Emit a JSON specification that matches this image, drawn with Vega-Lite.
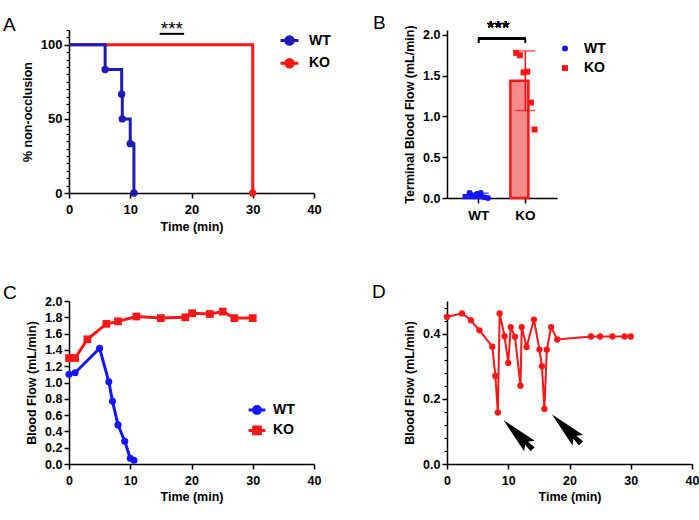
{
  "$schema": "https://vega.github.io/schema/vega-lite/v6.json",
  "background": "white",
  "padding": {"left": 3, "top": 14, "right": 5, "bottom": 5},
  "autosize": {"type": "pad"},
  "bounds": "flush",
  "columns": 2,
  "spacing": {"row": 103, "column": 133},
  "resolve": {"scale": {"color": "independent", "x": "independent", "y": "independent", "xOffset": "independent"}, "legend": {"color": "independent"}},
  "config": {
    "font": "Liberation Sans",
    "view": {"stroke": null},
    "axis": {"grid": false, "domainColor": "#000", "domainWidth": 1.5, "tickColor": "#000", "tickWidth": 1.5, "tickSize": 5, "labelFont": "Liberation Sans", "labelFontWeight": "bold", "labelFontSize": 12.5, "labelColor": "#000", "labelPadding": 2, "labelFlush": false, "labelOverlap": false, "titleFont": "Liberation Sans", "titleFontWeight": "bold", "titleFontSize": 12.5, "titleColor": "#000"},
    "axisX": {"labelPadding": 5, "titlePadding": 4},
    "axisY": {"titlePadding": 6},
    "legend": {"labelFont": "Liberation Sans", "labelFontWeight": "bold", "labelFontSize": 14, "labelColor": "#000", "orient": "none", "padding": 0, "offset": 0},
    "title": {"font": "Liberation Sans", "fontSize": 19, "fontWeight": "normal", "color": "#000", "anchor": "start", "frame": "group", "baseline": "alphabetic"}
  },
  "concat": [
    {
      "width": 245, "height": 163,
      "title": {"text": "A", "dx": -66, "offset": 2, "dy": 17},
      "resolve": {"axis": {"y": "independent"}},
      "layer": [
        {
          "data": {"values": [
            {"group": "KO", "time": 0, "pct": 100},
            {"group": "KO", "time": 30, "pct": 0},
            {"group": "WT", "time": 0, "pct": 100},
            {"group": "WT", "time": 5.9, "pct": 83.3},
            {"group": "WT", "time": 8.6, "pct": 66.7},
            {"group": "WT", "time": 8.7, "pct": 50},
            {"group": "WT", "time": 10.0, "pct": 33.3},
            {"group": "WT", "time": 10.6, "pct": 0}
          ]},
          "mark": {"type": "line", "interpolate": "step-after", "strokeWidth": 3},
          "encoding": {
            "x": {"field": "time", "type": "quantitative", "scale": {"domain": [0, 40], "nice": false}, "axis": {"values": [0, 10, 20, 30, 40], "title": "Time (min)", "labelFontSize": 13}},
            "y": {"field": "pct", "type": "quantitative", "scale": {"domain": [0, 110], "nice": false}, "axis": {"values": [0, 50, 100], "title": "% non-occlusion", "orient": "left", "labelFontSize": 13}},
            "color": {"field": "group", "type": "nominal", "scale": {"domain": ["WT", "KO"], "range": ["#1c1cb4", "#f91616"]},
              "legend": {"title": null, "legendX": 210, "legendY": 0, "symbolSize": 324, "labelOffset": 9, "rowPadding": 1.8,
                "encode": {"symbols": {"update": {
                  "shape": {"value": "M-1,0H1M0.42,0A0.42,0.42 0 1,1 -0.42,0A0.42,0.42 0 1,1 0.42,0Z"},
                  "fill": {"signal": "datum.value === 'WT' ? '#1c1cb4' : '#f91616'"},
                  "stroke": {"signal": "datum.value === 'WT' ? '#1c1cb4' : '#f91616'"},
                  "strokeWidth": {"value": 3}, "opacity": {"value": 1}}}}}}
          }
        },
        {
          "data": {"values": [
            {"group": "WT", "time": 5.9, "pct": 83.3},
            {"group": "WT", "time": 8.6, "pct": 66.7},
            {"group": "WT", "time": 8.7, "pct": 50},
            {"group": "WT", "time": 10.0, "pct": 33.3},
            {"group": "WT", "time": 10.6, "pct": 0},
            {"group": "KO", "time": 30, "pct": 0}
          ]},
          "mark": {"type": "point", "filled": true, "opacity": 1, "size": 55},
          "encoding": {
            "x": {"field": "time", "type": "quantitative"},
            "y": {"field": "pct", "type": "quantitative", "axis": null},
            "color": {"field": "group", "type": "nominal"}
          }
        },
        {
          "data": {"values": [{"time": 0, "pct": 0}]},
          "mark": {"type": "point", "opacity": 0},
          "encoding": {
            "x": {"field": "time", "type": "quantitative"},
            "y": {"field": "pct", "type": "quantitative", "axis": {"orient": "left", "values": [5, 10, 15, 20, 25, 30, 35, 40, 45, 55, 60, 65, 70, 75, 80, 85, 90, 95, 105, 110], "labels": false, "domain": false, "title": null, "tickSize": 3, "tickWidth": 1.2}}
          }
        },
        {
          "data": {"values": [{"time": 14.8, "time_end": 18.8, "pct": 107.4}]},
          "mark": {"type": "rule", "color": "#000", "strokeWidth": 2},
          "encoding": {
            "x": {"field": "time", "type": "quantitative"},
            "x2": {"field": "time_end"},
            "y": {"field": "pct", "type": "quantitative", "axis": null}
          }
        },
        {
          "data": {"values": [{"time": 16.8, "pct": 106.5, "label": "***"}]},
          "mark": {"type": "text", "fontSize": 19, "baseline": "alphabetic", "color": "#000"},
          "encoding": {
            "x": {"field": "time", "type": "quantitative"},
            "y": {"field": "pct", "type": "quantitative", "axis": null},
            "text": {"field": "label"}
          }
        }
      ]
    },
    {
      "width": 110, "height": 168,
      "title": {"text": "B", "dx": -74, "offset": 2, "dy": 16},
      "data": {"values": [
        {"group": "WT", "rep": 1, "flow": 0.06},
        {"group": "WT", "rep": 2, "flow": 0.02},
        {"group": "WT", "rep": 3, "flow": 0.05},
        {"group": "WT", "rep": 4, "flow": 0.06},
        {"group": "WT", "rep": 5, "flow": 0.01},
        {"group": "WT", "rep": 6, "flow": 0.0},
        {"group": "KO", "rep": 1, "flow": 1.78},
        {"group": "KO", "rep": 2, "flow": 1.75},
        {"group": "KO", "rep": 3, "flow": 1.54},
        {"group": "KO", "rep": 4, "flow": 1.55},
        {"group": "KO", "rep": 5, "flow": 1.17},
        {"group": "KO", "rep": 6, "flow": 0.84}
      ]},
      "layer": [
        {
          "mark": {"type": "bar", "strokeWidth": 2.5},
          "encoding": {
            "x": {"field": "group", "type": "nominal", "scale": {"domain": ["WT", "KO"], "paddingInner": 0.36, "paddingOuter": 0.36}, "axis": {"title": null, "labelAngle": 0, "labelFontSize": 13.5}},
            "y": {"aggregate": "mean", "field": "flow", "type": "quantitative", "scale": {"domain": [0, 2.06], "nice": false}, "axis": {"values": [0, 0.5, 1, 1.5, 2], "format": ".1f", "title": "Terminal Blood Flow (mL/min)"}},
            "fill": {"field": "group", "type": "nominal", "scale": {"domain": ["WT", "KO"], "range": ["#8f8fff", "#f48a8a"]}, "legend": null},
            "stroke": {"field": "group", "type": "nominal", "scale": {"domain": ["WT", "KO"], "range": ["#1414ff", "#f91616"]}, "legend": null}
          }
        },
        {
          "mark": {"type": "errorbar", "extent": "stdev", "ticks": {"size": 20}, "thickness": 1.5},
          "encoding": {
            "x": {"field": "group", "type": "nominal"},
            "y": {"field": "flow", "type": "quantitative", "title": "Terminal Blood Flow (mL/min)"},
            "color": {"field": "group", "type": "nominal", "scale": {"domain": ["WT", "KO"], "range": ["#1414ff", "#f91616"]},
              "legend": {"title": null, "legendX": 111, "legendY": 11.5, "symbolSize": 36, "labelOffset": 12, "rowPadding": 5.6,
                "encode": {"symbols": {"update": {
                  "shape": {"signal": "datum.value === 'WT' ? 'circle' : 'square'"},
                  "fill": {"signal": "datum.value === 'WT' ? '#1414ff' : '#f91616'"},
                  "stroke": {"value": "transparent"}, "strokeWidth": {"value": 0}, "opacity": {"value": 1}}}}}}
          }
        },
        {
          "transform": [{"filter": "datum.group === 'WT'"}],
          "mark": {"type": "point", "shape": "circle", "filled": true, "opacity": 1, "size": 36},
          "encoding": {
            "x": {"field": "group", "type": "nominal"},
            "xOffset": {"field": "rep", "type": "ordinal", "scale": {"type": "point", "range": [4, 26]}},
            "y": {"field": "flow", "type": "quantitative", "title": "Terminal Blood Flow (mL/min)"},
            "color": {"field": "group", "type": "nominal"}
          }
        },
        {
          "transform": [{"filter": "datum.group === 'KO'"}],
          "mark": {"type": "point", "shape": "square", "filled": true, "opacity": 1, "size": 36},
          "encoding": {
            "x": {"field": "group", "type": "nominal"},
            "xOffset": {"field": "rep", "type": "ordinal", "scale": {"type": "point", "range": [4, 26]}},
            "y": {"field": "flow", "type": "quantitative", "title": "Terminal Blood Flow (mL/min)"},
            "color": {"field": "group", "type": "nominal"}
          }
        },
        {
          "mark": {"type": "rule", "color": "#000", "strokeWidth": 2},
          "encoding": {"x": {"datum": "WT"}, "x2": {"datum": "KO"}, "y": {"datum": 1.96}}
        },
        {
          "data": {"values": [{"group": "WT", "lo": 1.9, "hi": 1.96}, {"group": "KO", "lo": 1.9, "hi": 1.96}]},
          "mark": {"type": "rule", "color": "#000", "strokeWidth": 2},
          "encoding": {"x": {"field": "group", "type": "nominal"}, "y": {"field": "lo", "type": "quantitative", "title": "Terminal Blood Flow (mL/min)"}, "y2": {"field": "hi"}}
        },
        {
          "mark": {"type": "text", "dx": 19.5, "fontSize": 19, "baseline": "alphabetic", "color": "#000"},
          "encoding": {"x": {"datum": "WT"}, "y": {"datum": 2.01}, "text": {"value": "***"}}
        }
      ]
    },
    {
      "width": 245, "height": 163,
      "title": {"text": "C", "dx": -66, "offset": 1, "dy": 9},
      "data": {"values": [
        {"group": "WT", "time": 0, "flow": 1.10},
        {"group": "WT", "time": 1.0, "flow": 1.12},
        {"group": "WT", "time": 5.0, "flow": 1.42},
        {"group": "WT", "time": 6.5, "flow": 1.01},
        {"group": "WT", "time": 7.1, "flow": 0.77},
        {"group": "WT", "time": 8.0, "flow": 0.48},
        {"group": "WT", "time": 9.1, "flow": 0.28},
        {"group": "WT", "time": 10.0, "flow": 0.07},
        {"group": "WT", "time": 10.6, "flow": 0.045},
        {"group": "KO", "time": 0, "flow": 1.30},
        {"group": "KO", "time": 1.0, "flow": 1.30},
        {"group": "KO", "time": 3.0, "flow": 1.53},
        {"group": "KO", "time": 6.1, "flow": 1.72},
        {"group": "KO", "time": 8.0, "flow": 1.75},
        {"group": "KO", "time": 11.0, "flow": 1.81},
        {"group": "KO", "time": 15.0, "flow": 1.79},
        {"group": "KO", "time": 19.0, "flow": 1.80},
        {"group": "KO", "time": 20.1, "flow": 1.85},
        {"group": "KO", "time": 23.0, "flow": 1.84},
        {"group": "KO", "time": 25.1, "flow": 1.87},
        {"group": "KO", "time": 27.0, "flow": 1.79},
        {"group": "KO", "time": 30.0, "flow": 1.79}
      ]},
      "encoding": {
        "x": {"field": "time", "type": "quantitative", "scale": {"domain": [0, 40], "nice": false}, "axis": {"values": [0, 10, 20, 30, 40], "title": "Time (min)"}},
        "y": {"field": "flow", "type": "quantitative", "scale": {"domain": [0, 2], "nice": false}, "axis": {"values": [0, 0.2, 0.4, 0.6, 0.8, 1.0, 1.2, 1.4, 1.6, 1.8, 2.0], "format": ".1f", "title": "Blood Flow (mL/min)"}},
        "color": {"field": "group", "type": "nominal", "scale": {"domain": ["WT", "KO"], "range": ["#1414ff", "#f91616"]},
          "legend": {"title": null, "legendX": 178, "legendY": 99, "symbolSize": 279, "labelOffset": 6, "rowPadding": 0.4,
            "encode": {"symbols": {"update": {
              "shape": {"signal": "datum.value === 'WT' ? 'M-1,0H1M0.42,0A0.42,0.42 0 1,1 -0.42,0A0.42,0.42 0 1,1 0.42,0Z' : 'M-1,0H1M-0.4,-0.4H0.4V0.4H-0.4Z'"},
              "fill": {"signal": "datum.value === 'WT' ? '#1414ff' : '#f91616'"},
              "stroke": {"signal": "datum.value === 'WT' ? '#1414ff' : '#f91616'"},
              "strokeWidth": {"value": 3}, "opacity": {"value": 1}}}}}}
      },
      "layer": [
        {"mark": {"type": "line", "strokeWidth": 3}},
        {"transform": [{"filter": "datum.group === 'WT'"}], "mark": {"type": "point", "shape": "circle", "filled": true, "opacity": 1, "size": 50}},
        {"transform": [{"filter": "datum.group === 'KO'"}], "mark": {"type": "point", "shape": "square", "filled": true, "opacity": 1, "size": 60}}
      ]
    },
    {
      "width": 245, "height": 163,
      "title": {"text": "D", "dx": -75, "offset": 1, "dy": 2},
      "resolve": {"axis": {"y": "independent"}},
      "layer": [
        {
          "data": {"values": [
            {"time": 0, "flow": 0.451},
            {"time": 2.45, "flow": 0.462},
            {"time": 3.9, "flow": 0.441},
            {"time": 5.3, "flow": 0.41},
            {"time": 7.4, "flow": 0.36},
            {"time": 7.9, "flow": 0.27},
            {"time": 8.3, "flow": 0.158},
            {"time": 8.6, "flow": 0.462},
            {"time": 9.4, "flow": 0.392},
            {"time": 10.0, "flow": 0.31},
            {"time": 10.4, "flow": 0.42},
            {"time": 11.1, "flow": 0.39},
            {"time": 12.0, "flow": 0.24},
            {"time": 12.2, "flow": 0.42},
            {"time": 13.0, "flow": 0.359},
            {"time": 14.2, "flow": 0.443},
            {"time": 15.1, "flow": 0.351},
            {"time": 15.5, "flow": 0.30},
            {"time": 15.9, "flow": 0.169},
            {"time": 16.3, "flow": 0.351},
            {"time": 17.0, "flow": 0.42},
            {"time": 18.0, "flow": 0.382},
            {"time": 23.5, "flow": 0.391},
            {"time": 25.0, "flow": 0.391},
            {"time": 27.0, "flow": 0.391},
            {"time": 29.0, "flow": 0.391},
            {"time": 30.0, "flow": 0.391}
          ]},
          "mark": {"type": "line", "color": "#f91616", "strokeWidth": 2, "point": {"filled": true, "size": 40, "color": "#f91616", "opacity": 1}},
          "encoding": {
            "x": {"field": "time", "type": "quantitative", "scale": {"domain": [0, 40], "nice": false}, "axis": {"values": [0, 5, 10, 15, 20, 25, 30, 35, 40], "title": "Time (min)"}},
            "y": {"field": "flow", "type": "quantitative", "scale": {"domain": [0, 0.5], "nice": false}, "axis": {"values": [0, 0.2, 0.4], "format": ".1f", "title": "Blood Flow (mL/min)", "orient": "left"}}
          }
        },
        {
          "data": {"values": [{"time": 0, "flow": 0}]},
          "mark": {"type": "point", "opacity": 0},
          "encoding": {
            "x": {"field": "time", "type": "quantitative"},
            "y": {"field": "flow", "type": "quantitative", "axis": {"orient": "left", "values": [0.04, 0.08, 0.12, 0.16, 0.24, 0.28, 0.32, 0.36, 0.44, 0.48], "labels": false, "domain": false, "title": null, "tickSize": 3, "tickWidth": 1.2}}
          }
        },
        {
          "data": {"values": [{"time": 11.6, "flow": 0.09}, {"time": 19.5, "flow": 0.108}]},
          "mark": {"type": "point", "shape": "M0,-1L0.36,0.78L0.1,0.58L0.14,1L-0.14,1L-0.1,0.58L-0.36,0.78Z", "filled": true, "color": "#000", "opacity": 1, "size": 1700, "angle": -45},
          "encoding": {
            "x": {"field": "time", "type": "quantitative"},
            "y": {"field": "flow", "type": "quantitative", "axis": null}
          }
        }
      ]
    }
  ]
}
